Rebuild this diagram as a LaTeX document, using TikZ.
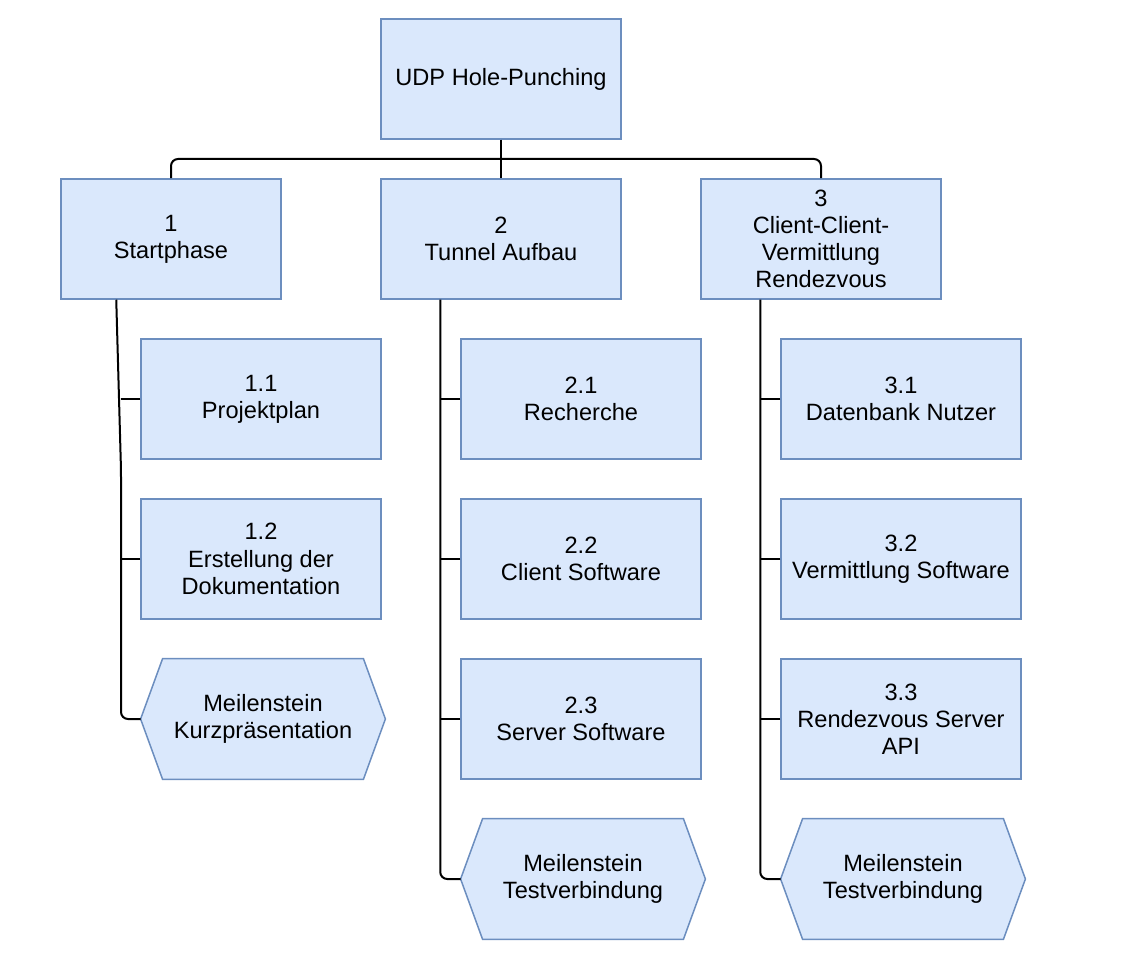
\documentclass[tikz,border=0pt]{standalone}
\usepackage{fontspec}
\setmainfont{Liberation Sans}
\usetikzlibrary{backgrounds}
\definecolor{boxfill}{HTML}{DAE8FC}
\definecolor{boxline}{HTML}{6C8EBF}

\begin{document}
\begin{tikzpicture}[x=0.5pt, y=-0.5pt,
      wp/.style={draw=boxline, fill=boxfill, line width=0.75pt, minimum width=120pt,
        minimum height=60pt, inner sep=0pt, align=center, font=\fontsize{11.8}{13.6}\selectfont},
      ms/.style={minimum width=122pt, minimum height=60pt, inner sep=0pt, align=center,
        font=\fontsize{11.8}{13.6}\selectfont},
      hexa/.style={draw=boxline, fill=boxfill, line width=0.75pt, line join=miter},
      conn/.style={line width=1pt, rounded corners=3.5pt}]
    \useasboundingbox (0,0) rectangle (1146,968);
    % project and phases
    \node[wp] (root) at (501,79) {UDP Hole-Punching};
    \node[wp, minimum width=110pt] (p1) at (171,239) {1\\Startphase};
    \node[wp] (p2) at (501,239) {2\\Tunnel Aufbau};
    \node[wp] (p3) at (821,239) {3\\Client-Client-\\Vermittlung\\Rendezvous};
    % work packages
    \foreach \i/\j/\txt in {1/1/{1.1\\Projektplan}, 1/2/{1.2\\Erstellung der\\Dokumentation},
        2/1/{2.1\\Recherche}, 2/2/{2.2\\Client Software}, 2/3/{2.3\\Server Software},
        3/1/{3.1\\Datenbank Nutzer}, 3/2/{3.2\\Vermittlung Software},
        3/3/{3.3\\Rendezvous Server\\API}} {
      \node[wp] (c\i\j) at ({261+320*(\i-1)}, {399+160*(\j-1)}) {\txt};
    }
    % milestones
    \node[ms] (m1) at (263,719) {Meilenstein\\Kurzpräsentation};
    \node[ms] (m2) at (583,879) {Meilenstein\\Testverbindung};
    \node[ms] (m3) at (903,879) {Meilenstein\\Testverbindung};
    \begin{scope}[on background layer]
      \foreach \m in {m1,m2,m3}
        \draw[hexa] (\m.west) -- ([xshift=11pt]\m.north west) -- ([xshift=-11pt]\m.north east)
          -- (\m.east) -- ([xshift=-11pt]\m.south east) -- ([xshift=11pt]\m.south west) -- cycle;
    \end{scope}
    % tree lines
    \coordinate (bus) at (501,159);
    \coordinate (b1) at (121,470);
    \draw[conn] (root.south) -- (p2.north);
    \draw[conn] (p1.north) |- (bus);
    \draw[conn] (p3.north) |- (bus);
    \draw[conn] (p1.south west) ++(56,0) -- (b1) |- (m1.west);
    \draw[conn] (p2.south west) ++(60,0) |- (m2.west);
    \draw[conn] (p3.south west) ++(60,0) |- (m3.west);
    \foreach \c in {c11,c12}
      \draw[conn] (\c.west) -- (\c.west -| b1);
    \foreach \c in {c21,c22,c23}
      \draw[conn] (\c.west) -- ++(-20,0);
    \foreach \c in {c31,c32,c33}
      \draw[conn] (\c.west) -- ++(-20,0);
  \end{tikzpicture}
\end{document}
